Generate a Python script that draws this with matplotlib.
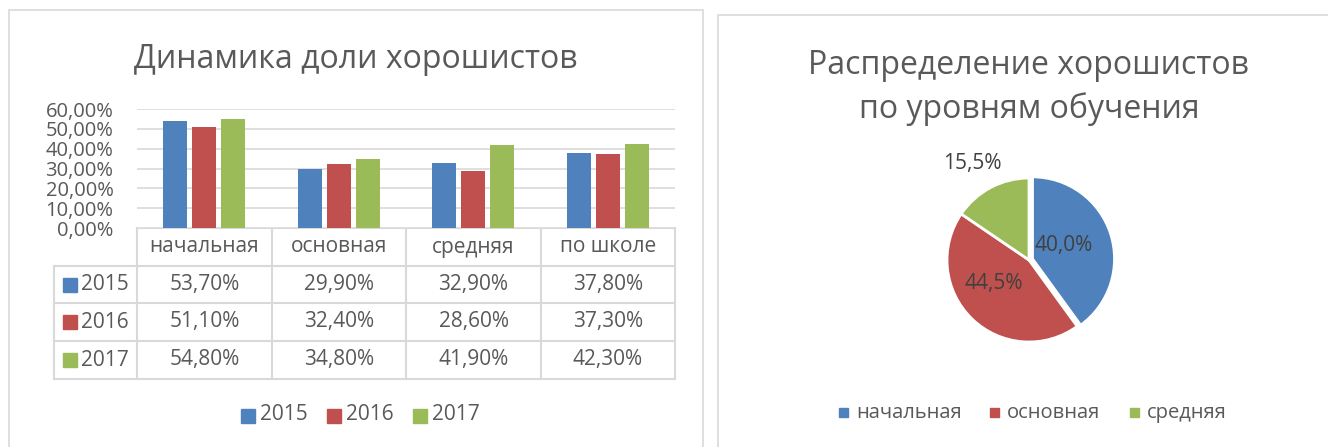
import matplotlib.pyplot as plt
from matplotlib.patches import Rectangle

plt.rcParams["font.family"] = ["Open Sans", "DejaVu Sans"]

W, H = 1328, 447
TEXT = "#595959"
GRID = "#d9d9d9"

# bar chart data
categories = ["начальная", "основная", "средняя", "по школе"]
years = ["2015", "2016", "2017"]
share_2015 = [53.7, 29.9, 32.9, 37.8]
share_2016 = [51.1, 32.4, 28.6, 37.3]
share_2017 = [54.8, 34.8, 41.9, 42.3]
year_colors = ["#4f81bd", "#c0504d", "#9bbb59"]

# pie data
levels = ["начальная", "основная", "средняя"]
level_share = [40.0, 44.5, 15.5]


def fx(x):
    return x / W


def fy(y):
    return 1 - y / H


def pct(v, digits):
    return f"{v:.{digits}f}%".replace(".", ",")


fig = plt.figure(figsize=(W / 100, H / 100), dpi=100)
fig.patch.set_facecolor("white")

# panel borders
fig.patches.append(Rectangle((fx(9), fy(460)), fx(703 - 9), (460 - 10) / H,
                             transform=fig.transFigure, fill=False,
                             edgecolor=GRID, linewidth=1.2))
fig.patches.append(Rectangle((fx(718), fy(460)), fx(1340 - 718), (460 - 15) / H,
                             transform=fig.transFigure, fill=False,
                             edgecolor=GRID, linewidth=1.2))

# ---- bar chart ----
plot_l, plot_r, plot_t, plot_b = 137, 675, 109, 228
ax = fig.add_axes([fx(plot_l), fy(plot_b), fx(plot_r - plot_l), (plot_b - plot_t) / H])
series = [share_2015, share_2016, share_2017]
bw = 0.178
off = 0.216
for i, (vals, col) in enumerate(zip(series, year_colors)):
    xs = [k + (i - 1) * off for k in range(len(categories))]
    ax.bar(xs, vals, width=bw, color=col, zorder=3)
ax.set_xlim(-0.5, len(categories) - 0.5)
ax.set_ylim(0, 60)
ax.set_yticks(range(0, 61, 10))
ax.set_yticklabels([pct(v, 2) for v in range(0, 61, 10)], color=TEXT, fontsize=14.5)
ax.tick_params(axis="y", length=0, pad=17)
ax.set_xticks([])
ax.grid(axis="y", color=GRID, linewidth=1.2, zorder=0)
for s in ax.spines.values():
    s.set_visible(False)

fig.text(fx(356), fy(59), "Динамика доли хорошистов", ha="center", va="center",
         fontsize=23, color=TEXT)

# data table
tab = fig.add_axes([0, 0, 1, 1], zorder=-1)
tab.set_xlim(0, W)
tab.set_ylim(H, 0)
tab.axis("off")
col_x = [54, 137, 272, 406, 541, 675]
row_y = [228, 266, 303, 341, 379]
lk = dict(color=GRID, linewidth=1.5)
tab.plot([col_x[1], col_x[-1]], [row_y[0]] * 2, **lk)
for y in row_y[1:]:
    tab.plot([col_x[0], col_x[-1]], [y, y], **lk)
tab.plot([col_x[0]] * 2, [row_y[1], row_y[-1]], **lk)
for x in col_x[1:]:
    tab.plot([x, x], [row_y[0], row_y[-1]], **lk)
for j, cat in enumerate(categories):
    cx = (col_x[j + 1] + col_x[j + 2]) / 2
    tab.text(cx, (row_y[0] + row_y[1]) / 2, cat, ha="center", va="center",
             fontsize=15, color=TEXT)
for i, (yr, vals, col) in enumerate(zip(years, series, year_colors)):
    cy = (row_y[i + 1] + row_y[i + 2]) / 2
    tab.add_patch(Rectangle((63, cy - 7), 14, 14, color=col))
    tab.text(81, cy, yr, ha="left", va="center", fontsize=15, color=TEXT)
    for j, v in enumerate(vals):
        cx = (col_x[j + 1] + col_x[j + 2]) / 2
        tab.text(cx, cy, pct(v, 2), ha="center", va="center", fontsize=15, color=TEXT)

# bottom legend of bar chart
lx = 241
for yr, col in zip(years, year_colors):
    tab.add_patch(Rectangle((lx, 409), 14, 14, color=col))
    tab.text(lx + 19, 415, yr, ha="left", va="center", fontsize=15, color=TEXT)
    lx += 86

# ---- pie chart ----
cx, cy, r = 1029, 260, 82
pax = fig.add_axes([fx(cx - 100), fy(cy + 100), fx(200), 200 / H])
pax.set_aspect("equal")
pax.axis("off")
pax.pie(level_share, colors=year_colors, startangle=90, counterclock=False,
        explode=[0.045, 0, 0], radius=1,
        wedgeprops=dict(edgecolor="white", linewidth=2))
pax.set_xlim(-100 / r, 100 / r)
pax.set_ylim(-100 / r, 100 / r)

label_pos = [(1064, 246), (994, 283), (972, 164)]
for v, (lx2, ly2) in zip(level_share, label_pos):
    fig.text(fx(lx2), fy(ly2), pct(v, 1), ha="center", va="center",
             fontsize=15, color="#404040")

fig.text(fx(1029), fy(65), "Распределение хорошистов", ha="center", va="center",
         fontsize=23, color=TEXT)
fig.text(fx(1029), fy(109), "по уровням обучения", ha="center", va="center",
         fontsize=23, color=TEXT)

# pie legend
leg_x = [839, 990, 1130]
for name, col, x in zip(levels, year_colors, leg_x):
    fig.patches.append(Rectangle((fx(x), fy(417)), fx(9), 9 / H, color=col,
                                 transform=fig.transFigure))
    fig.text(fx(x + 17), fy(413), name, ha="left", va="center", fontsize=14.5, color=TEXT)

fig.savefig("out.png", dpi=100, facecolor="white")
